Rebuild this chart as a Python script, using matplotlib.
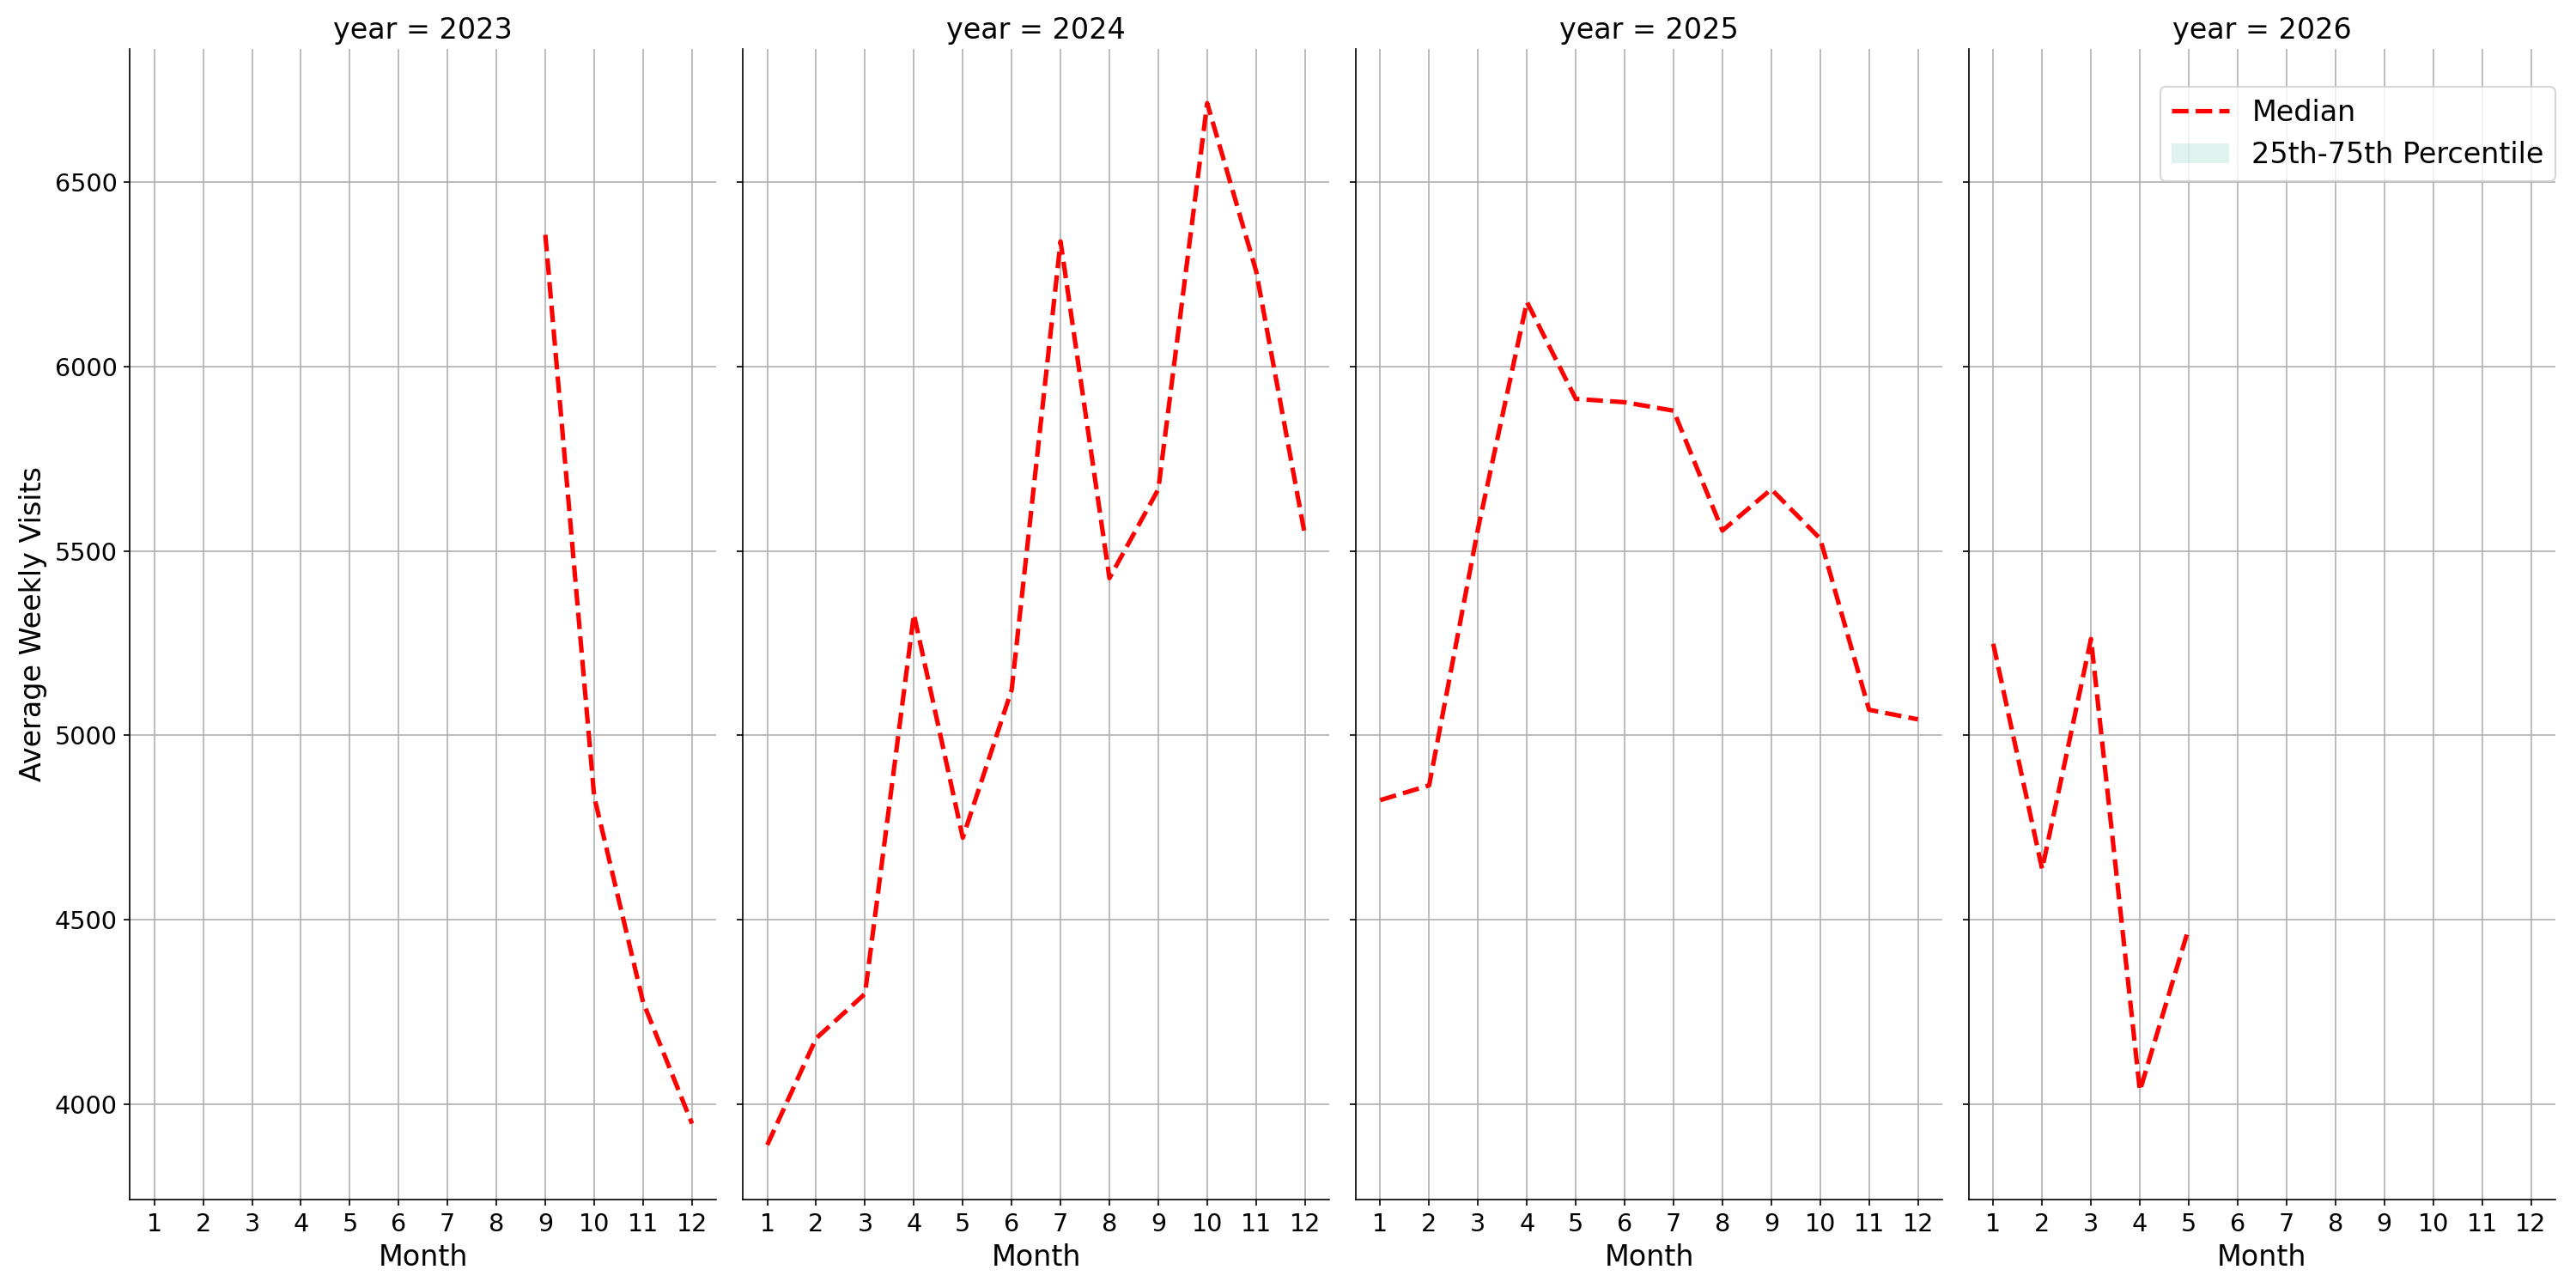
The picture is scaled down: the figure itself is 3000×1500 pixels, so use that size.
import matplotlib
matplotlib.use("Agg")
import matplotlib.pyplot as plt
import numpy as np

years = [2023, 2024, 2025, 2026]
months_2023 = [9, 10, 11, 12]
median_2023 = [6357, 4833, 4276, 3947]
months_2024 = [1, 2, 3, 4, 5, 6, 7, 8, 9, 10, 11, 12]
median_2024 = [3889, 4178, 4299, 5328, 4722, 5123, 6339, 5426, 5667, 6714, 6259, 5542]
months_2025 = [1, 2, 3, 4, 5, 6, 7, 8, 9, 10, 11, 12]
median_2025 = [4824, 4864, 5560, 6175, 5912, 5903, 5880, 5555, 5667, 5533, 5069, 5043]
months_2026 = [1, 2, 3, 4, 5]
median_2026 = [5248, 4637, 5261, 4036, 4477]

series = {
    2023: (months_2023, median_2023),
    2024: (months_2024, median_2024),
    2025: (months_2025, median_2025),
    2026: (months_2026, median_2026),
}
month_ticks = list(range(1, 13))
y_ticks = [4000, 4500, 5000, 5500, 6000, 6500]

fig, axes = plt.subplots(1, 4, sharey=True, figsize=(20, 10), dpi=150)
fig.subplots_adjust(left=0.0504, right=0.992, top=0.962, bottom=0.0687, wspace=0.045)

for ax, yr in zip(axes, years):
    m, med = series[yr]
    ax.plot(m, med, color="red", linestyle="--", linewidth=2.5, label="Median")
    ax.fill_between(m, med, med, color="#66c2a5", alpha=0.2, linewidth=0,
                    label="25th-75th Percentile")
    ax.set_title(f"year = {yr}", fontsize=16)
    ax.set_xlabel("Month", fontsize=16)
    ax.set_xticks(month_ticks)
    ax.set_xlim(0.5, 12.5)
    ax.grid(True, color="#b0b0b0", linewidth=0.8)
    ax.set_axisbelow(True)
    ax.tick_params(labelsize=13.75)
    ax.spines["top"].set_visible(False)
    ax.spines["right"].set_visible(False)
    if ax is not axes[0]:
        ax.tick_params(labelleft=False)

axes[0].set_yticks(y_ticks)
axes[0].set_ylim(3741, 6861)
axes[0].set_ylabel("Average Weekly Visits", fontsize=16)
axes[-1].legend(loc="upper right", fontsize=16, bbox_to_anchor=(1.0, 0.967),
                borderaxespad=0)

fig.savefig("out.png", dpi=150)
